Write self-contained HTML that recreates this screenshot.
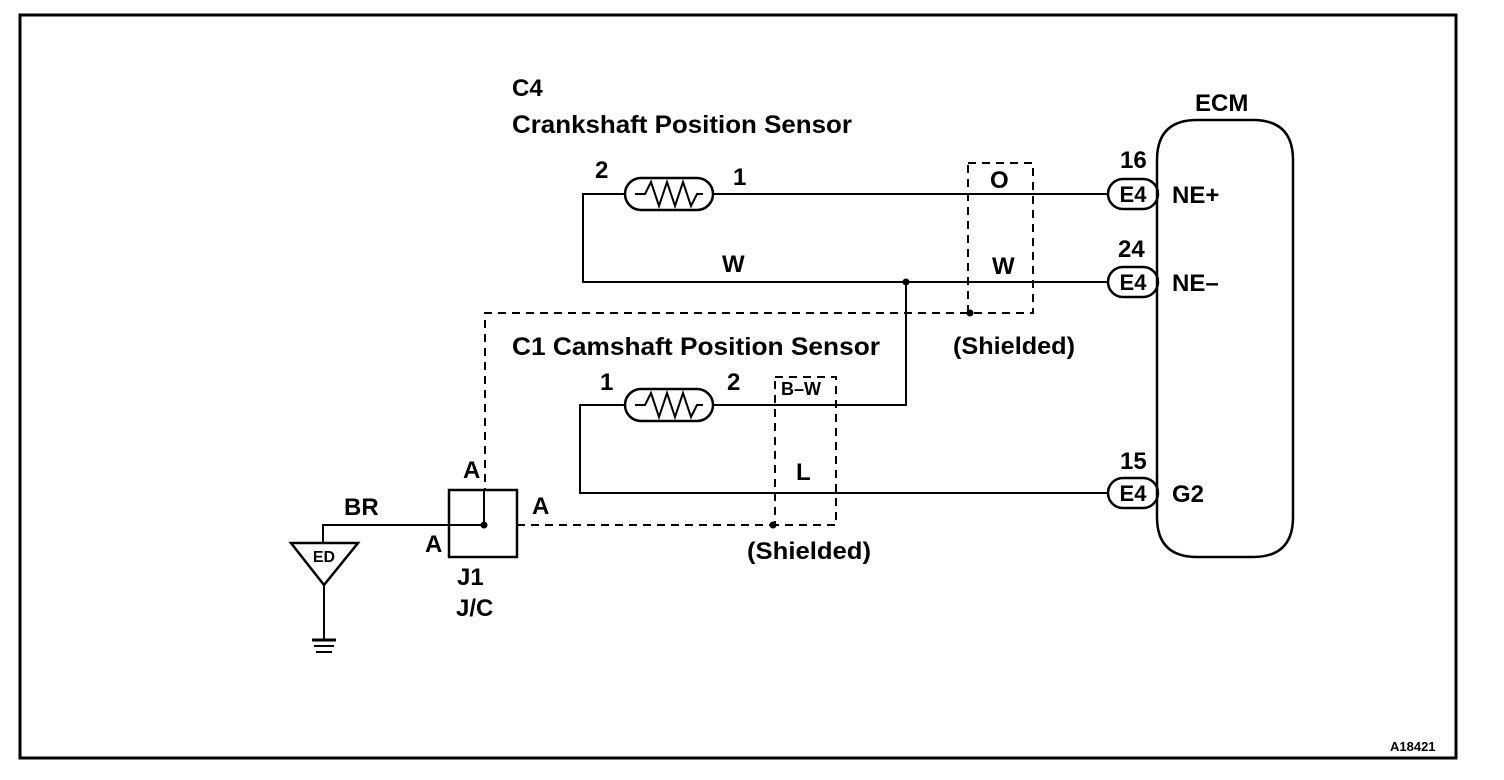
<!DOCTYPE html>
<html><head><style>
html,body{margin:0;padding:0;background:#fff}
svg{display:block}
text{font-family:"Liberation Sans",Arial,sans-serif;fill:#000;font-weight:bold}
</style></head><body>
<svg width="1504" height="780" viewBox="0 0 1504 780" xmlns="http://www.w3.org/2000/svg">
<rect x="20" y="15" width="1436" height="743" fill="none" stroke="#000" stroke-width="3"/>
<g fill="none" stroke="#000" stroke-width="2">
<rect x="625" y="178" width="88" height="32" rx="16" stroke-width="2.5"/>
<polyline points="635,194 645,194 651,182 659,206 667,182 675,206 683,182 691,206 697,194 703,194"/>
<polyline points="625,194 583,194 583,282 1108,282"/>
<line x1="713" y1="194" x2="1108" y2="194"/>
<rect x="625" y="389" width="88" height="32" rx="16" stroke-width="2.5"/>
<polyline points="635,405 645,405 651,393 659,417 667,393 675,417 683,393 691,417 697,405 703,405"/>
<polyline points="906,282 906,405 713,405"/>
<polyline points="625,405 580,405 580,493 1108,493"/>
<rect x="449" y="490" width="68" height="67" stroke-width="2.5"/>
<line x1="484" y1="490" x2="484" y2="525"/>
<polyline points="484,525 323,525 323,543"/>
<polygon points="291,543 358,543 324,585" stroke-width="2.5"/>
<polyline points="324,585 324,640"/>
<line x1="312" y1="640" x2="336" y2="640" stroke-width="3"/>
<line x1="314" y1="646" x2="334" y2="646"/>
<line x1="316" y1="652" x2="332" y2="652"/>
<path d="M1157,160 Q1157,120 1197,120 L1253,120 Q1293,120 1293,160 L1293,517 Q1293,557 1253,557 L1197,557 Q1157,557 1157,517 Z" stroke-width="2.5"/>
<rect x="1108" y="179" width="50" height="30" rx="15" stroke-width="2.5"/>
<rect x="1108" y="267" width="50" height="30" rx="15" stroke-width="2.5"/>
<rect x="1108" y="478" width="50" height="30" rx="15" stroke-width="2.5"/>
</g>
<g fill="none" stroke="#000" stroke-width="2" stroke-dasharray="8,6">
<rect x="968" y="163" width="65" height="150"/>
<polyline points="968,313 485,313 485,490"/>
<rect x="775" y="377" width="61" height="148"/>
<line x1="517" y1="525" x2="775" y2="525"/>
</g>
<g fill="#000">
<circle cx="906" cy="282" r="3.5"/>
<circle cx="970" cy="313" r="3.5"/>
<circle cx="773" cy="525" r="3.5"/>
<circle cx="484" cy="525" r="3.5"/>
</g>
<g font-size="24">
<text x="512" y="96">C4</text>
<text x="512" y="133" font-size="25" textLength="340" lengthAdjust="spacingAndGlyphs">Crankshaft Position Sensor</text>
<text x="512" y="355" font-size="25" textLength="368" lengthAdjust="spacingAndGlyphs">C1 Camshaft Position Sensor</text>
<text x="595" y="178">2</text>
<text x="733" y="185">1</text>
<text x="722" y="272">W</text>
<text x="990" y="188">O</text>
<text x="992" y="274">W</text>
<text x="953" y="354" textLength="122" lengthAdjust="spacingAndGlyphs">(Shielded)</text>
<text x="600" y="390">1</text>
<text x="727" y="390">2</text>
<text x="796" y="480">L</text>
<text x="747" y="559" textLength="124" lengthAdjust="spacingAndGlyphs">(Shielded)</text>
<text x="463" y="478">A</text>
<text x="532" y="514">A</text>
<text x="425" y="552">A</text>
<text x="344" y="515">BR</text>
<text x="457" y="585">J1</text>
<text x="456" y="616">J/C</text>
<text x="1195" y="111">ECM</text>
<text x="1120" y="168">16</text>
<text x="1172" y="203">NE+</text>
<text x="1118" y="257">24</text>
<text x="1172" y="291">NE–</text>
<text x="1120" y="469">15</text>
<text x="1172" y="502">G2</text>
</g>
<g font-size="22" text-anchor="middle">
<text x="1133" y="202">E4</text>
<text x="1133" y="290">E4</text>
<text x="1133" y="501">E4</text>
</g>
<text x="781" y="395" font-size="18">B–W</text>
<text x="324" y="562" font-size="16" text-anchor="middle">ED</text>
<text x="1390" y="751" font-size="13">A18421</text>
</svg>
</body></html>
